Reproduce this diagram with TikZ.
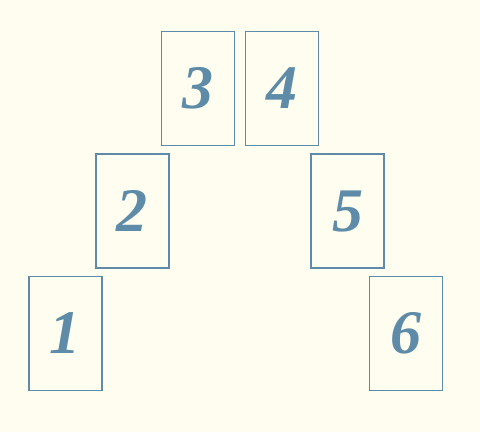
\documentclass[tikz,border=0pt]{standalone}
\usepackage{fontspec}
\setmainfont{Liberation Serif}
\usepackage{tikz}

\definecolor{cardblue}{HTML}{5E8CA8}
\definecolor{paper}{HTML}{FEFDF0}

\tikzset{
    card/.style={
        draw=cardblue,
        line width=1.5pt,
        minimum width=73pt,
        minimum height=114pt,
        inner sep=0pt,
        text=cardblue,
        font=\fontsize{62}{62}\selectfont\bfseries\itshape,
        },
}

\begin{document}
\begin{tikzpicture}[x=1pt,y=-1pt]

% Background
\fill[paper] (0,0) rectangle (480,432);
\useasboundingbox (0,0) rectangle (480,432);

% Left side
\node[card] (one)   at (65.4,333.4) {1};
\node[card] (two)   at (132.4,211)  {2};
\node[card] (three) at (198,88.5)   {3};

% Right side
\node[card] (four)  at (282,88.5)   {4};
\node[card] (five)  at (347.6,211)  {5};
\node[card] (six)   at (406,333.5)  {6};

\end{tikzpicture}
\end{document}
